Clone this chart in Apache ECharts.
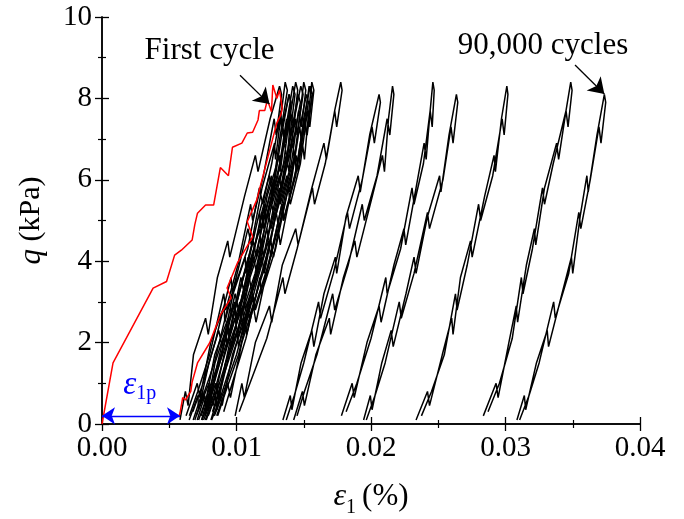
<!DOCTYPE html>
<html><head><meta charset="utf-8">
<script src="https://cdn.jsdelivr.net/npm/echarts@6/dist/echarts.min.js"></script>
<style>html,body{margin:0;padding:0;background:#fff}#c{width:684px;height:519px}</style>
</head><body><div id="c"></div>
<script>
// axis ranges / ticks
const xRange = [0, 0.04];
const yRange = [0, 10];

// q templates (kPa) for loading (up) and unloading (down) branches
const qUp1 = [0.1, 0.8, 0.45, 1.7, 2.6, 2.2, 3.6, 4.5, 4.1, 5.6, 6.6, 6.2, 7.5, 8.3];
const qDn1 = [8.1, 7.1, 7.5, 6.1, 5.0, 5.4, 3.9, 2.8, 3.2, 1.7, 0.8, 0.2];
const qUp2 = [0.2, 1.0, 0.65, 2.0, 2.9, 2.5, 3.9, 4.8, 4.4, 5.8, 6.9, 6.5, 7.7, 8.4];
const qDn2 = [8.2, 7.3, 7.7, 6.4, 5.4, 5.8, 4.3, 3.2, 3.6, 2.1, 1.0, 0.3];
const qUp3 = [0.1, 0.7, 0.35, 1.5, 2.3, 1.9, 3.2, 4.1, 3.7, 5.1, 6.1, 5.7, 7.1, 8.1];
const qDn3 = [7.9, 6.9, 7.3, 6.0, 4.8, 5.2, 3.7, 2.6, 3.0, 1.5, 0.7, 0.1];

// strain (%) of each branch
const L0up = [0.00580,0.00620,0.00640,0.00680,0.00770,0.00790,0.00858,0.00935,0.00950,0.01060,0.01140,0.01160,0.01250,0.01320];
const L0dn = [0.01335,0.01295,0.01280,0.01200,0.01120,0.01105,0.01010,0.00920,0.00905,0.00800,0.00712,0.00650];
const M1up = [0.00625,0.00708,0.00728,0.00808,0.00908,0.00913,0.01020,0.01085,0.01110,0.01190,0.01283,0.01290,0.01335,0.01362];
const M1dn = [0.01378,0.01335,0.01330,0.01262,0.01195,0.01170,0.01083,0.00968,0.00960,0.00848,0.00752,0.00675];
const M2up = [0.00648,0.00713,0.00718,0.00795,0.00868,0.00893,0.00975,0.01065,0.01070,0.01163,0.01243,0.01268,0.01325,0.01392];
const M2dn = [0.01405,0.01360,0.01335,0.01278,0.01180,0.01172,0.01060,0.00970,0.00945,0.00835,0.00752,0.00690];
const M3up = [0.00678,0.00748,0.00765,0.00838,0.00938,0.00943,0.01050,0.01123,0.01148,0.01228,0.01320,0.01325,0.01378,0.01418];
const M3dn = [0.01435,0.01398,0.01372,0.01308,0.01215,0.01210,0.01100,0.01015,0.00990,0.00888,0.00790,0.00738];
const M4up = [0.00700,0.00795,0.00800,0.00895,0.00978,0.01003,0.01090,0.01175,0.01180,0.01280,0.01355,0.01378,0.01405,0.01440];
const M4dn = [0.01455,0.01425,0.01400,0.01350,0.01265,0.01260,0.01153,0.01058,0.01033,0.00938,0.00823,0.00765];
const M5up = [0.00718,0.00785,0.00790,0.00865,0.00938,0.00963,0.01050,0.01125,0.01150,0.01225,0.01320,0.01333,0.01405,0.01458];
const M5dn = [0.01475,0.01420,0.01412,0.01340,0.01258,0.01235,0.01138,0.01030,0.01025,0.00895,0.00828,0.00755];
const M6up = [0.00740,0.00800,0.00825,0.00908,0.00988,0.01010,0.01100,0.01190,0.01200,0.01293,0.01370,0.01390,0.01430,0.01478];
const M6dn = [0.01495,0.01450,0.01440,0.01360,0.01283,0.01262,0.01170,0.01065,0.01058,0.00938,0.00855,0.00790];
const M7up = [0.00763,0.00845,0.00865,0.00950,0.01045,0.01055,0.01158,0.01225,0.01248,0.01330,0.01420,0.01430,0.01475,0.01500];
const M7dn = [0.01515,0.01483,0.01462,0.01408,0.01325,0.01318,0.01215,0.01115,0.01095,0.00995,0.00885,0.00822];
const M8up = [0.00775,0.00840,0.00855,0.00918,0.01005,0.01015,0.01110,0.01188,0.01207,0.01290,0.01375,0.01395,0.01460,0.01520];
const M8dn = [0.01535,0.01485,0.01470,0.01400,0.01315,0.01295,0.01195,0.01093,0.01082,0.00962,0.00885,0.00815];
const M9up = [0.00810,0.00873,0.00893,0.00970,0.01065,0.01075,0.01178,0.01255,0.01275,0.01360,0.01443,0.01458,0.01508,0.01540];
const M9dn = [0.01562,0.01520,0.01505,0.01435,0.01348,0.01338,0.01240,0.01140,0.01122,0.01015,0.00920,0.00860];
const M10up = [0.00853,0.00935,0.00955,0.01040,0.01125,0.01145,0.01235,0.01310,0.01325,0.01410,0.01490,0.01505,0.01538,0.01560];
const M10dn = [0.01575,0.01545,0.01528,0.01475,0.01400,0.01385,0.01290,0.01185,0.01175,0.01070,0.00968,0.00905];
const M11up = [0.00708,0.00765,0.00780,0.00840,0.00918,0.00930,0.01015,0.01088,0.01100,0.01180,0.01260,0.01272,0.01335,0.01390];
const M11dn = [0.01405,0.01358,0.01345,0.01285,0.01202,0.01190,0.01090,0.01000,0.00985,0.00875,0.00808,0.00745];
const M12up = [0.00768,0.00840,0.00855,0.00945,0.01040,0.01050,0.01160,0.01238,0.01255,0.01350,0.01433,0.01445,0.01500,0.01548];
const M12dn = [0.01565,0.01525,0.01505,0.01440,0.01350,0.01340,0.01235,0.01130,0.01120,0.01000,0.00905,0.00835];
const G2up = [0.00990,0.01040,0.01058,0.01140,0.01245,0.01262,0.01340,0.01440,0.01458,0.01560,0.01650,0.01668,0.01730,0.01775];
const G2dn = [0.01785,0.01745,0.01730,0.01660,0.01580,0.01565,0.01450,0.01360,0.01345,0.01225,0.01100,0.01020];
const G3aUp = [0.01345,0.01400,0.01412,0.01480,0.01560,0.01575,0.01650,0.01735,0.01745,0.01815,0.01905,0.01920,0.01990,0.02060];
const G3aDn = [0.02070,0.02025,0.02008,0.01935,0.01840,0.01825,0.01720,0.01625,0.01610,0.01500,0.01430,0.01370];
const G3bUp = [0.01425,0.01490,0.01505,0.01590,0.01690,0.01700,0.01795,0.01880,0.01895,0.02010,0.02085,0.02100,0.02130,0.02160];
const G3bDn = [0.02170,0.02140,0.02120,0.02045,0.01950,0.01935,0.01830,0.01730,0.01715,0.01598,0.01505,0.01450];
const G4aUp = [0.01780,0.01860,0.01875,0.01970,0.02060,0.02075,0.02170,0.02245,0.02258,0.02335,0.02395,0.02410,0.02440,0.02460];
const G4aDn = [0.02470,0.02455,0.02440,0.02390,0.02320,0.02305,0.02220,0.02120,0.02110,0.02000,0.01895,0.01815];
const G4bUp = [0.01945,0.01995,0.02008,0.02080,0.02150,0.02165,0.02260,0.02320,0.02335,0.02420,0.02510,0.02520,0.02580,0.02635];
const G4bDn = [0.02645,0.02610,0.02595,0.02535,0.02435,0.02420,0.02320,0.02225,0.02210,0.02105,0.02030,0.01965];
const G5up = [0.02335,0.02420,0.02435,0.02530,0.02600,0.02610,0.02665,0.02740,0.02752,0.02845,0.02915,0.02925,0.02970,0.03010];
const G5dn = [0.03018,0.02990,0.02975,0.02905,0.02815,0.02800,0.02715,0.02640,0.02628,0.02545,0.02450,0.02375];
const G6up = [0.02835,0.02930,0.02945,0.03025,0.03080,0.03090,0.03155,0.03215,0.03225,0.03290,0.03380,0.03395,0.03450,0.03485];
const G6dn = [0.03495,0.03465,0.03450,0.03355,0.03290,0.03275,0.03200,0.03130,0.03118,0.03050,0.02955,0.02870];
const G7up = [0.03085,0.03140,0.03150,0.03230,0.03310,0.03320,0.03420,0.03490,0.03500,0.03555,0.03605,0.03615,0.03680,0.03735];
const G7dn = [0.03745,0.03710,0.03695,0.03630,0.03560,0.03545,0.03470,0.03370,0.03358,0.03250,0.03175,0.03105];

// first cycle (red)
const redX = [0,0.00082,0.0038,0.0048,0.0054,0.0059,0.0067,0.0069,0.0071,0.0077,0.0083,0.0088,0.0094,0.0097,0.0104,0.0108,0.0112,0.0116,0.0117,0.0121,0.0123,0.0126,0.0127,0.0130,0.0132,0.0134,0.0133,
              0.0130,0.0115,0.0108,0.0112,0.0101,0.0093,0.0096,0.0088,0.0080,0.0071,0.0067,0.0066,0.0062,0.0060,0.0058,0.0057];
const redQ = [0,1.5,3.34,3.5,4.15,4.27,4.52,4.9,5.18,5.38,5.38,6.3,6.1,6.8,6.9,7.15,7.17,7.47,7.7,7.7,7.96,7.67,8.33,8.0,8.2,7.76,7.6,
              7.4,5.5,4.97,4.6,3.98,3.34,3.1,2.68,1.99,1.5,1.03,0.8,0.59,0.65,0.27,0.17];

// annotations (data coords)
const plasticArrow = [[0, 0.2], [0.0058, 0.2]];
const firstArrow = [[0.01026, 8.57], [0.01245, 7.86]];
const lastArrow = [[0.03517, 8.82], [0.03735, 8.11]];
const firstLabelPos = [0.00800, 9.18];
const lastLabelPos = [0.03279, 9.28];
const epsLabelPos = [0.00158, 0.50];

const loops = [
  [L0up, L0dn, qUp1, qDn1],
  [M1up, M1dn, qUp2, qDn2], [M2up, M2dn, qUp3, qDn3], [M3up, M3dn, qUp1, qDn1],
  [M4up, M4dn, qUp2, qDn2], [M5up, M5dn, qUp3, qDn3], [M6up, M6dn, qUp1, qDn1],
  [M7up, M7dn, qUp2, qDn2], [M8up, M8dn, qUp3, qDn3], [M9up, M9dn, qUp1, qDn1],
  [M10up, M10dn, qUp2, qDn2], [M11up, M11dn, qUp3, qDn3], [M12up, M12dn, qUp1, qDn1],
  [G2up, G2dn, qUp2, qDn2], [G3aUp, G3aDn, qUp3, qDn3], [G3bUp, G3bDn, qUp1, qDn1],
  [G4aUp, G4aDn, qUp2, qDn2], [G4bUp, G4bDn, qUp3, qDn3], [G5up, G5dn, qUp1, qDn1],
  [G6up, G6dn, qUp2, qDn2], [G7up, G7dn, qUp3, qDn3]
];

const FONT = '"Liberation Serif", "Times New Roman", serif';
const chart = echarts.init(document.getElementById('c'), null, {renderer: 'canvas'});

const series = loops.map(l => ({
  type: 'line', silent: true, symbol: 'none', animation: false,
  lineStyle: {color: '#000', width: 1.5},
  data: l[0].map((x, i) => [x, l[2][i]]).concat(l[1].map((x, i) => [x, l[3][i]]))
}));
series.push({
  type: 'line', silent: true, symbol: 'none', animation: false, z: 5,
  lineStyle: {color: '#ff0000', width: 1.5},
  data: redX.map((x, i) => [x, redQ[i]])
});
function arrowSeries(pts, color, both) {
  return {
    type: 'line', data: [], silent: true, animation: false, z: 8,
    markLine: {
      silent: true, animation: false, z: 8,
      symbol: both ? ['arrow', 'arrow'] : ['none', 'arrow'],
      symbolSize: both ? 13 : 15,
      label: {show: false},
      itemStyle: {color: color},
      lineStyle: {color: color, width: 1.3, type: 'solid'},
      emphasis: {disabled: true},
      data: [[{coord: pts[0]}, {coord: pts[1]}]]
    }
  };
}
series.push(arrowSeries(plasticArrow, '#0000ff', true));
series.push(arrowSeries(firstArrow, '#000', false));
series.push(arrowSeries(lastArrow, '#000', false));

const axisCommon = {
  type: 'value',
  axisLine: {show: true, lineStyle: {color: '#000', width: 1.5}},
  axisTick: {show: true, inside: false, length: 7, lineStyle: {color: '#000', width: 1.3}},
  minorTick: {show: true, splitNumber: 2, length: 4, lineStyle: {color: '#000', width: 1.2}},
  splitLine: {show: false}
};

chart.setOption({
  animation: false,
  backgroundColor: '#fff',
  grid: {left: 102, right: 44, top: 17, bottom: 95, containLabel: false, outerBoundsMode: 'none'},
  xAxis: [
    Object.assign({}, axisCommon, {
      min: xRange[0], max: xRange[1], interval: 0.01, position: 'bottom',
      axisLabel: {fontFamily: FONT, fontSize: 29, color: '#000', margin: 10, formatter: v => v.toFixed(2)},
      name: '{e|ε}{s|1}{n|(%)}', nameLocation: 'middle', nameGap: 52,
      nameTextStyle: {
        fontFamily: FONT, color: '#000',
        rich: {
          e: {fontFamily: FONT, fontStyle: 'italic', fontSize: 32, color: '#000', lineHeight: 42, verticalAlign: 'middle'},
          s: {fontFamily: FONT, fontSize: 20, color: '#000', lineHeight: 42, verticalAlign: 'bottom', padding: [0, 6, 0, 0]},
          n: {fontFamily: FONT, fontSize: 31, color: '#000', lineHeight: 42, verticalAlign: 'middle'}
        }
      }
    }),
    Object.assign({}, axisCommon, {
      min: xRange[0], max: xRange[1], interval: 0.01, position: 'top',
      axisLabel: {show: false}
    })
  ],
  yAxis: [
    Object.assign({}, axisCommon, {
      min: yRange[0], max: yRange[1], interval: 2, position: 'left',
      axisLabel: {fontFamily: FONT, fontSize: 29, color: '#000', margin: 10},
      name: '{i|q} (kPa)', nameLocation: 'middle', nameGap: 55, nameRotate: 90,
      nameTextStyle: {
        fontFamily: FONT, fontSize: 30, color: '#000',
        rich: {i: {fontFamily: FONT, fontStyle: 'italic', fontSize: 31, color: '#000'}}
      }
    }),
    Object.assign({}, axisCommon, {
      min: yRange[0], max: yRange[1], interval: 2, position: 'right',
      axisLabel: {show: false}
    })
  ],
  series: series
});

const p1 = chart.convertToPixel({gridIndex: 0}, firstLabelPos);
const p2 = chart.convertToPixel({gridIndex: 0}, lastLabelPos);
const p3 = chart.convertToPixel({gridIndex: 0}, epsLabelPos);
chart.setOption({
  graphic: [
    {type: 'text', x: p1[0], y: p1[1], silent: true, z: 10,
     style: {text: 'First cycle', fontFamily: FONT, fontSize: 31, fill: '#000', textAlign: 'center', textVerticalAlign: 'middle'}},
    {type: 'text', x: p2[0], y: p2[1], silent: true, z: 10,
     style: {text: '90,000 cycles', fontFamily: FONT, fontSize: 31, fill: '#000', textAlign: 'center', textVerticalAlign: 'middle'}},
    {type: 'text', x: p3[0], y: p3[1], silent: true, z: 10,
     style: {text: '{e|ε}{s|1p}', textAlign: 'left', textVerticalAlign: 'bottom',
       rich: {
         e: {fontFamily: FONT, fontStyle: 'italic', fontSize: 33, fill: '#0000ff', lineHeight: 36, verticalAlign: 'middle'},
         s: {fontFamily: FONT, fontSize: 20, fill: '#0000ff', lineHeight: 36, verticalAlign: 'bottom'}
       }}}
  ]
});
</script></body></html>
